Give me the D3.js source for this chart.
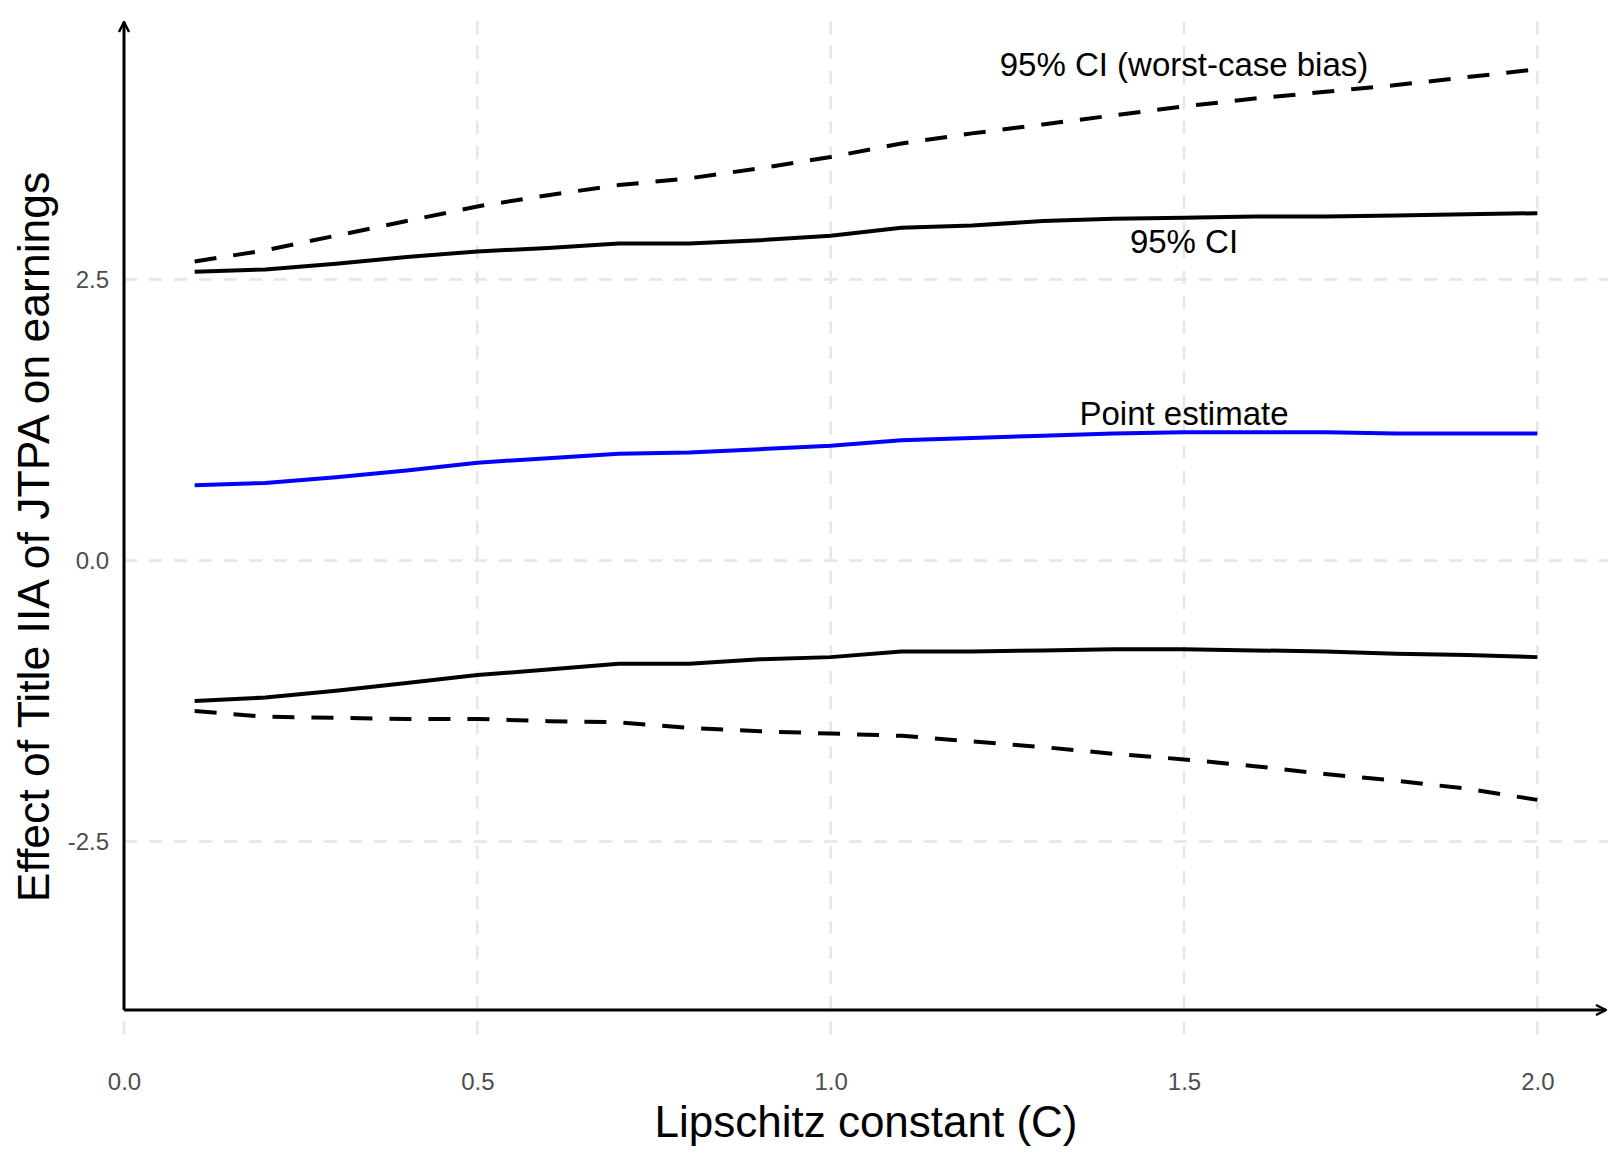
<!DOCTYPE html>
<html>
<head>
<meta charset="utf-8">
<script src="https://cdn.jsdelivr.net/npm/d3@7"></script>
<style>
  body { margin: 0; background: #fff; }
  text { font-family: "Liberation Sans", Arial, Helvetica, sans-serif; }
</style>
</head>
<body>
<div id="chart"></div>
<script>
// Lipschitz constant grid
const cValues = [0.1, 0.2, 0.3, 0.4, 0.5, 0.6, 0.7, 0.8, 0.9, 1.0,
                 1.1, 1.2, 1.3, 1.4, 1.5, 1.6, 1.7, 1.8, 1.9, 2.0];

// point estimate
const pointEst = [0.67, 0.69, 0.74, 0.80, 0.87, 0.91, 0.95, 0.96, 0.99, 1.02,
                  1.07, 1.09, 1.11, 1.13, 1.14, 1.14, 1.14, 1.13, 1.13, 1.13];

// 95% CI (solid)
const ciUpper = [2.57, 2.59, 2.64, 2.70, 2.75, 2.78, 2.82, 2.82, 2.85, 2.89,
                 2.96, 2.98, 3.02, 3.04, 3.05, 3.06, 3.06, 3.07, 3.08, 3.09];
const ciLower = [-1.25, -1.22, -1.16, -1.09, -1.02, -0.97, -0.92, -0.92, -0.88, -0.86,
                 -0.81, -0.81, -0.80, -0.79, -0.79, -0.80, -0.81, -0.83, -0.84, -0.86];

// 95% CI with worst-case bias (dashed)
const wcUpper = [2.66, 2.76, 2.89, 3.02, 3.15, 3.25, 3.34, 3.40, 3.49, 3.59,
                 3.71, 3.80, 3.88, 3.96, 4.04, 4.11, 4.17, 4.23, 4.30, 4.37];
const wcLower = [-1.34, -1.39, -1.40, -1.41, -1.41, -1.43, -1.44, -1.49, -1.52, -1.54,
                 -1.56, -1.61, -1.66, -1.72, -1.77, -1.83, -1.90, -1.96, -2.03, -2.13];

const xTicks = [0.0, 0.5, 1.0, 1.5, 2.0];
const yTicks = [-2.5, 0.0, 2.5];

// text labels placed in the panel
const labelText = ["95% CI (worst-case bias)", "95% CI", "Point estimate"];
const labelX = [1.5, 1.5, 1.5];
const labelY = [4.41, 2.84, 1.31];

const W = 1623, H = 1159;
const margin = {top: 21, right: 15, bottom: 122, left: 124};

const svg = d3.select("#chart").append("svg")
  .attr("width", W).attr("height", H);

const x = d3.scaleLinear().domain([0, 2.1]).range([margin.left, W - margin.right]);
const y = d3.scaleLinear().domain([-4.24, 4.8]).range([H - margin.bottom, margin.top]);

const fmt = d => d.toFixed(1);

// grid
const grid = svg.append("g")
  .attr("stroke", "#e5e5e5").attr("stroke-width", 2.4)
  .attr("stroke-dasharray", "13,12");
grid.selectAll("line.v").data(xTicks).join("line").attr("class", "v")
  .attr("x1", d => x(d)).attr("x2", d => x(d))
  .attr("y1", y.range()[1]).attr("y2", y.range()[0]);
grid.selectAll("line.h").data(yTicks).join("line").attr("class", "h")
  .attr("y1", d => y(d)).attr("y2", d => y(d))
  .attr("x1", x.range()[0]).attr("x2", x.range()[1]);

// tick labels from axes
const xAxis = svg.append("g")
  .attr("transform", `translate(0,${y.range()[0]})`)
  .call(d3.axisBottom(x).tickValues(xTicks).tickFormat(fmt).tickSize(0));
xAxis.select(".domain").remove();
xAxis.selectAll("text").attr("y", 45).attr("dy", "0.35em")
  .attr("font-size", 24).attr("fill", "#4d4d4d")
  .style("font-family", "'Liberation Sans', Arial, sans-serif");

const yAxis = svg.append("g")
  .attr("transform", `translate(${x(0)},0)`)
  .call(d3.axisLeft(y).tickValues(yTicks).tickFormat(fmt).tickSize(0).tickPadding(15));
yAxis.select(".domain").remove();
yAxis.selectAll("text").attr("font-size", 24).attr("fill", "#4d4d4d")
  .style("font-family", "'Liberation Sans', Arial, sans-serif");

// arrow heads for axes
svg.append("defs").append("marker")
  .attr("id", "arrow")
  .attr("viewBox", "0 0 12 12")
  .attr("refX", 11).attr("refY", 6)
  .attr("markerWidth", 12).attr("markerHeight", 12)
  .attr("markerUnits", "userSpaceOnUse")
  .attr("orient", "auto")
  .append("path")
  .attr("d", "M1,1 L11,6 L1,11")
  .attr("fill", "none").attr("stroke", "#000").attr("stroke-width", 2.4);

// axis lines with arrows
svg.append("line")
  .attr("x1", x(0)).attr("y1", y(-4)).attr("x2", x(2.1) - 2).attr("y2", y(-4))
  .attr("stroke", "#000").attr("stroke-width", 3)
  .attr("marker-end", "url(#arrow)");
svg.append("line")
  .attr("x1", x(0)).attr("y1", y(-4)).attr("x2", x(0)).attr("y2", y(4.8) + 1)
  .attr("stroke", "#000").attr("stroke-width", 3)
  .attr("marker-end", "url(#arrow)");

// series
const series = [
  {vals: wcUpper, color: "#000", dash: "22,17"},
  {vals: wcLower, color: "#000", dash: "22,17"},
  {vals: ciUpper, color: "#000", dash: null},
  {vals: ciLower, color: "#000", dash: null},
  {vals: pointEst, color: "#0000ff", dash: null}
];

const line = d3.line().x((d, i) => x(cValues[i])).y(d => y(d));

svg.append("g").selectAll("path")
  .data(series)
  .join("path")
  .attr("d", d => line(d.vals))
  .attr("fill", "none")
  .attr("stroke", d => d.color)
  .attr("stroke-width", 4)
  .attr("stroke-dasharray", d => d.dash);

// labels
svg.append("g").selectAll("text")
  .data(labelText)
  .join("text")
  .attr("x", (d, i) => x(labelX[i]))
  .attr("y", (d, i) => y(labelY[i]))
  .attr("dy", "0.35em")
  .attr("text-anchor", "middle")
  .attr("font-size", 33)
  .attr("fill", "#000")
  .text(d => d);

// axis titles
svg.append("text")
  .attr("x", (x.range()[0] + x.range()[1]) / 2)
  .attr("y", 1122).attr("dy", "0.35em")
  .attr("text-anchor", "middle").attr("font-size", 44)
  .text("Lipschitz constant (C)");

svg.append("text")
  .attr("transform", `translate(33,${(y.range()[0] + y.range()[1]) / 2 + 8}) rotate(-90)`)
  .attr("dy", "0.35em")
  .attr("text-anchor", "middle").attr("font-size", 44.5)
  .text("Effect of Title IIA of JTPA on earnings");
</script>
</body>
</html>
